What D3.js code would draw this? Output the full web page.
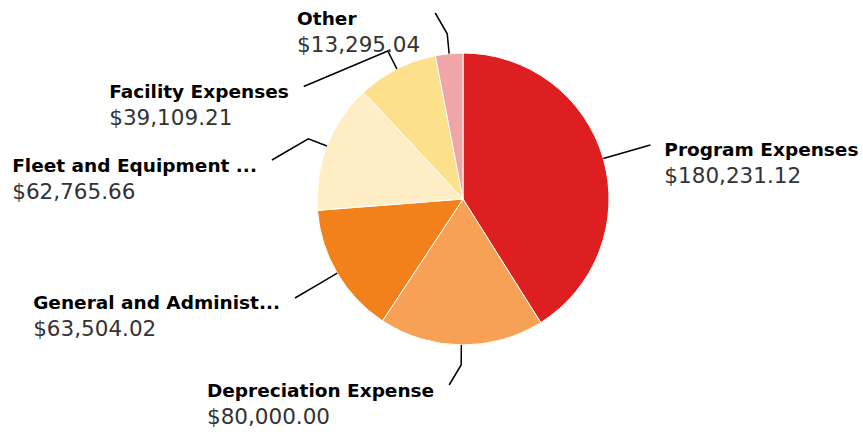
<!DOCTYPE html>
<html><head><meta charset="utf-8">
<script src="https://cdn.jsdelivr.net/npm/d3@7"></script>
<style>html,body{margin:0;padding:0;background:#fff}svg{display:block}</style>
</head><body><svg id="chart" width="863" height="434"></svg>
<script>
const categories = ["Program Expenses","Depreciation Expense","General and Administ...","Fleet and Equipment ...","Facility Expenses","Other"];
const values = [180231.12, 80000.00, 63504.02, 62765.66, 39109.21, 13295.04];
const colors = ["#de1f21","#f7a157","#f2811c","#feedc5","#fde08b","#f0a5a8"];

const W = 863, H = 434, cx = 463, cy = 199, r = 146;
const labelR = 195, gap = 73.5, yMin = 13 - cy, yMax = 385 - cy;
const fmt = d3.format("$,.2f");

const svg = d3.select("#chart");
const data = categories.map((c, i) => ({name: c, value: values[i], color: colors[i]}));
const arcs = d3.pie().sort(null).value(d => d.value)(data);
const arc = d3.arc().innerRadius(0).outerRadius(r);
const g = svg.append("g").attr("transform", `translate(${cx},${cy})`);

g.selectAll("path.slice").data(arcs).join("path")
  .attr("class", "slice")
  .attr("d", arc)
  .attr("fill", d => d.data.color)
  .attr("stroke", "#fff").attr("stroke-width", 1).attr("stroke-linejoin", "round");

// label layout
const labels = arcs.map(a => {
  const m = (a.startAngle + a.endAngle) / 2;
  const left = Math.sin(m) < 0;
  return {a, m, left, ny: -labelR * Math.cos(m)};
});
["left", "right"].forEach(side => {
  const list = labels.filter(l => (side === "left") === l.left).sort((p, q) => p.ny - q.ny);
  list.forEach((l, i) => {
    l.y = Math.max(l.ny, yMin, i > 0 ? list[i - 1].y + gap : -Infinity);
  });
  for (let i = list.length - 1; i >= 0; i--) {
    const lim = i < list.length - 1 ? list[i + 1].y - gap : Infinity;
    list[i].y = Math.min(list[i].y, yMax, lim);
  }
});
labels.forEach(l => {
  const s = l.left ? -1 : 1;
  l.p0 = [r * Math.sin(l.m), -r * Math.cos(l.m)];
  l.p1 = [(r + 20) * Math.sin(l.m), -(r + 20) * Math.cos(l.m)];
  const clamped = l.y <= yMin + 0.01 || l.y >= yMax - 0.01;
  l.x = clamped ? l.p1[0] + s * 12 : s * Math.sqrt(Math.max(0, labelR * labelR - l.y * l.y));
});

g.selectAll("path.conn").data(labels).join("path")
  .attr("class", "conn")
  .attr("d", l => d3.line()([l.p0, l.p1, [l.x, l.y]]))
  .attr("fill", "none").attr("stroke", "#000").attr("stroke-width", 1.5);

const lg = g.selectAll("g.lbl").data(labels).join("g").attr("class", "lbl")
  .style("font-family", "'DejaVu Sans', Verdana, sans-serif");
lg.append("text").attr("class", "nm").attr("y", 11.5)
  .style("font-weight", "bold").style("font-size", "18.5px").attr("fill", "#000")
  .text(l => l.a.data.name);
lg.append("text").attr("class", "vl").attr("y", 38.5)
  .style("font-size", "21.5px").attr("fill", "#333")
  .text(l => fmt(l.a.data.value));
lg.each(function(l) {
  const el = d3.select(this);
  const w = Math.max(el.select(".nm").node().getComputedTextLength(), el.select(".vl").node().getComputedTextLength());
  const tx = l.left ? l.x - 15 - w : l.x + 14;
  el.attr("transform", `translate(${tx},${l.y})`);
});
</script></body></html>
